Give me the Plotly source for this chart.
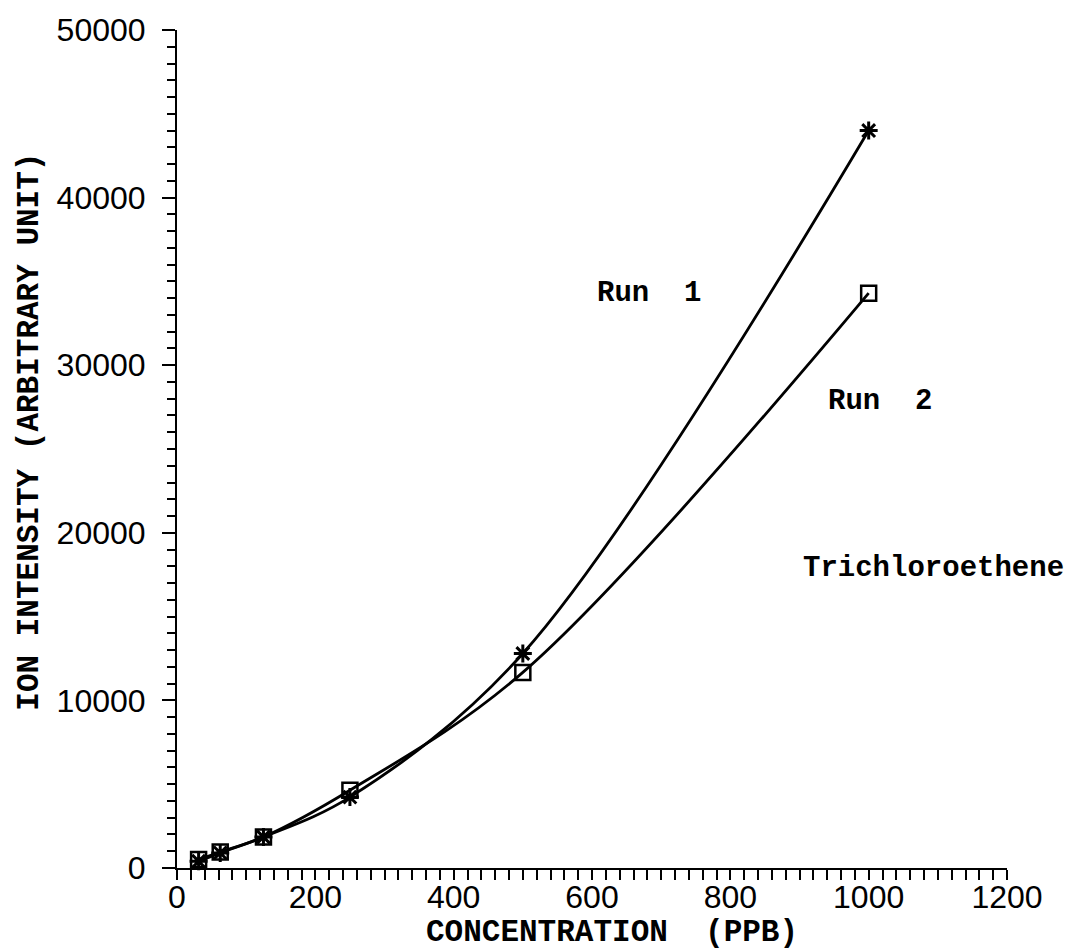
import plotly.graph_objects as go

# Concentration levels (ppb) and measured ion intensities for each run
concentration = [31.25, 62.5, 125, 250, 500, 1000]
run1_intensity = [400, 900, 1850, 4230, 12800, 44000]
run2_intensity = [500, 950, 1850, 4640, 11670, 34300]

x_ticks = [0, 200, 400, 600, 800, 1000, 1200]
y_ticks = [0, 10000, 20000, 30000, 40000, 50000]

mono = "Liberation Mono"
sans = "Liberation Sans"

fig = go.Figure()

fig.add_trace(go.Scatter(
    x=concentration, y=run1_intensity, name="Run 1",
    mode="lines+markers", line=dict(color="black", width=2.8, shape="spline", smoothing=1.0),
    marker=dict(symbol="asterisk-open", size=15, color="black", line=dict(color="black", width=3)),
    cliponaxis=False,
))
fig.add_trace(go.Scatter(
    x=concentration, y=run2_intensity, name="Run 2",
    mode="lines+markers", line=dict(color="black", width=2.8, shape="spline", smoothing=1.0),
    marker=dict(symbol="square-open", size=15, color="black", line=dict(color="black", width=2.5)),
    cliponaxis=False,
))

axis_common = dict(
    showgrid=False, zeroline=False, showline=True, linecolor="black", linewidth=2,
    ticks="outside", tickcolor="black", tickwidth=2,
    tickfont=dict(family=sans, size=32, color="black"),
)

fig.update_xaxes(
    range=[0, 1200], tickvals=x_ticks, ticktext=[str(v) for v in x_ticks],
    ticklen=10,
    minor=dict(dtick=20, ticks="outside", ticklen=10, tickwidth=2, tickcolor="black"),
    ticklabelstandoff=-10,
    **axis_common,
)
fig.update_yaxes(
    range=[0, 50000], tickvals=y_ticks, ticktext=[str(v) for v in y_ticks],
    ticklen=13,
    minor=dict(dtick=1000, ticks="outside", ticklen=8, tickwidth=2, tickcolor="black"),
    ticklabelstandoff=10,
    **axis_common,
)

label_font = dict(family=mono, size=29, color="black")
fig.add_annotation(x=605, y=34290, text="<b>Run  1</b>", showarrow=False,
                   xanchor="left", yanchor="middle", font=label_font)
fig.add_annotation(x=938, y=27860, text="<b>Run  2</b>", showarrow=False,
                   xanchor="left", yanchor="middle", font=label_font)
fig.add_annotation(x=902, y=17860, text="<b>Trichloroethene</b>", showarrow=False,
                   xanchor="left", yanchor="middle", font=label_font)

title_font = dict(family=mono, size=31, color="black")
fig.add_annotation(xref="paper", yref="paper", x=0.524, y=-0.077,
                   text="<b>CONCENTRATION  (PPB)</b>", showarrow=False,
                   xanchor="center", yanchor="middle", font=title_font)
fig.add_annotation(xref="paper", yref="paper", x=-0.178, y=0.521,
                   text="<b>ION INTENSITY (ARBITRARY UNIT)</b>", showarrow=False,
                   textangle=-90, xanchor="center", yanchor="middle", font=title_font)

fig.update_layout(
    width=1069, height=949,
    margin=dict(l=177, r=62, t=28, b=81),
    paper_bgcolor="white", plot_bgcolor="white",
    showlegend=False,
)

fig.write_html("out.html")
